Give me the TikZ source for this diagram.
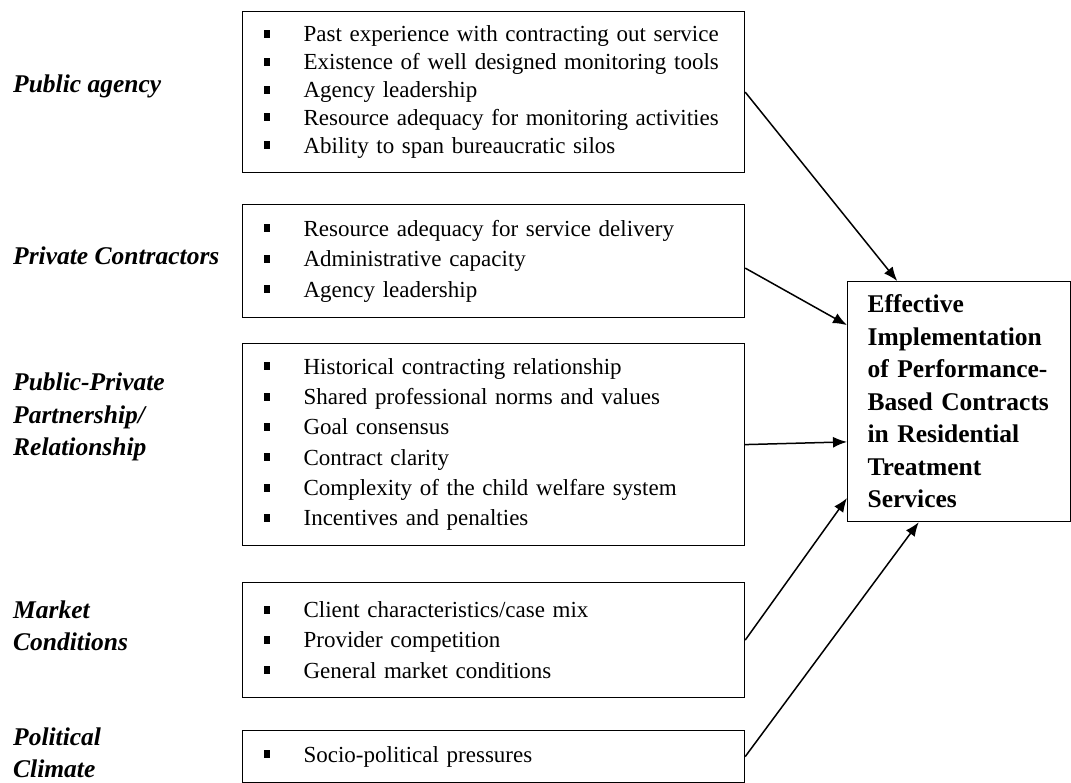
\documentclass[tikz,border=0pt]{standalone}
\usepackage{fontspec}
\setmainfont{Liberation Serif}
\usepackage{tikz}
\usetikzlibrary{arrows.meta,positioning,calc}
\tikzstyle{itembox} = [draw,line width=1.2pt,anchor=north west,inner xsep=11pt,inner ysep=0pt,text width=480pt,align=left,font=\fontsize{23pt}{30.3pt}\selectfont]
\tikzstyle{factor} = [anchor=west,inner sep=0pt,align=left,font=\fontsize{25.5pt}{32.5pt}\selectfont\bfseries\itshape]
\tikzstyle{outbox} = [draw,line width=1.2pt,anchor=north west,inner xsep=20pt,inner ysep=0pt,text width=183pt,minimum height=240pt,align=left,font=\fontsize{25.5pt}{32.5pt}\selectfont\bfseries]
\tikzset{>={Latex[length=14pt,width=11pt]}}
\newcommand{\bul}{\makebox[50pt][l]{\hspace{10pt}\rule[4pt]{6.5pt}{8pt}}}

\begin{document}
\begin{tikzpicture}[x=1pt,y=-1pt]
    \useasboundingbox (0,0) rectangle (1071,783);
    % factor groups
    \node [factor] (lagency) at (13,86) {Public agency};
    \node [factor] (lcontr) at (13,256) {Private Contractors};
    \node [factor] (lpartner) at (13,417) {Public-Private\\Partnership/\\Relationship};
    \node [factor] (lmarket) at (13,626) {Market\\Conditions};
    \node [factor] (lpolitic) at (13,753) {Political\\Climate};
    % lists of items
    \node [itembox,minimum height=161pt,font=\fontsize{23pt}{27.8pt}\selectfont] (agency) at (242,11) {\bul Past experience with contracting out service\\
      \bul Existence of well designed monitoring tools\\
      \bul Agency leadership\\
      \bul Resource adequacy for monitoring activities\\
      \bul Ability to span bureaucratic silos};
    \node [itembox,minimum height=113pt] (contr) at (242,204) {\bul Resource adequacy for service delivery\\
      \bul Administrative capacity\\
      \bul Agency leadership};
    \node [itembox,minimum height=202pt] (partner) at (242,343) {\bul Historical contracting relationship\\
      \bul Shared professional norms and values\\
      \bul Goal consensus\\
      \bul Contract clarity\\
      \bul Complexity of the child welfare system\\
      \bul Incentives and penalties};
    \node [itembox,minimum height=115pt] (market) at (242,582) {\bul Client characteristics/case mix\\
      \bul Provider competition\\
      \bul General market conditions};
    \node [itembox,minimum height=52pt] (politic) at (242,730) {\bul Socio-political pressures};
    % outcome
    \node [outbox] (outcome) at (847,281) {Effective\\Implementation\\of Performance-\\Based Contracts\\in Residential\\Treatment\\Services};
    \draw [->,line width=1.5pt] (agency.east) -- ($(outcome.north west)!0.224!(outcome.north east)$);
    \draw [->,line width=1.5pt] ($(contr.east)+(0,7)$) -- ($(outcome.north west)!0.183!(outcome.south west)$);
    \draw [->,line width=1.5pt] (partner.east) -- ($(outcome.north west)!0.667!(outcome.south west)$);
    \draw [->,line width=1.5pt] (market.east) -- ($(outcome.north west)!0.9!(outcome.south west)$);
    \draw [->,line width=1.5pt] (politic.east) -- ($(outcome.south west)!0.32!(outcome.south east)$);
  \end{tikzpicture}
\end{document}
